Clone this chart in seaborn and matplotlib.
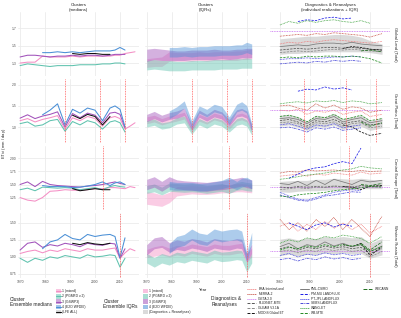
import numpy as np
import pandas as pd
import matplotlib
matplotlib.use("Agg")
import matplotlib.pyplot as plt
from matplotlib.patches import Rectangle
import seaborn as sns

nan = np.nan

# ─────────────────────────────────────────
# DATA
# ─────────────────────────────────────────
YEARS = [1970, 1973, 1976, 1979, 1982, 1985, 1988, 1991, 1994, 1997,
         2000, 2003, 2006, 2008, 2010, 2012, 2014, 2016]
DIAG_YEARS = [1980, 1983, 1986, 1989, 1992, 1995, 1998, 2001, 2004, 2007, 2010, 2014]

REGIONS = ["Global Land (Total)", "Great Plains (Total)",
           "Central Europe (Total)", "Western Russia (Total)"]
CLUSTERS = ["1 (mixed)", "2 (PGMFD v.2)", "3 (GSWP3)", "4 (E2O WFDEI)", "(LFE ALL)"]
PRODUCTS = ["ERA-Interim/Land", "MERRA-2", "GETA 2.0", "FLUXNET-MTE", "GLEAM V3.1A",
            "MODIS Global ET", "PML-CSIRO", "PM-MU LANDFLUX", "PT-JPL LANDFLUX",
            "SEBS LANDFLUX", "WANG-ET", "WB-MTE", "WECANN"]

# event years (red dotted verticals)
gl_events = []
gp_events = [1988, 2002, 2012]
ce_events = [2003]
wr_events = [2010]

# --- Global Land: cluster medians
gl_c1 = [1.30, 1.31, 1.31, 1.38, 1.37, 1.37, 1.37, 1.38, 1.37, 1.38, 1.38, 1.38, 1.38, 1.39, 1.39, 1.41, 1.42, 1.43]
gl_c2 = [1.27, 1.29, 1.28, 1.27, 1.26, 1.27, 1.27, 1.27, 1.28, 1.28, 1.28, 1.29, 1.29, 1.30, 1.30, 1.29, nan, nan]
gl_c3 = [1.37, 1.39, 1.39, 1.38, 1.37, 1.38, 1.38, 1.39, 1.38, 1.39, 1.39, 1.38, 1.39, 1.40, 1.40, 1.40, nan, nan]
gl_c4 = [nan, nan, nan, 1.42, 1.42, 1.43, 1.42, 1.43, 1.42, 1.43, 1.44, 1.44, 1.44, 1.45, 1.48, 1.45, nan, nan]
gl_lfe = [nan, nan, nan, nan, nan, nan, nan, 1.41, 1.40, 1.41, 1.41, 1.40, 1.40, nan, nan, nan, nan, nan]
# --- Global Land: cluster IQRs
gl_c1_lo = [1.25, 1.26, 1.26, 1.32, 1.32, 1.32, 1.32, 1.33, 1.32, 1.33, 1.33, 1.33, 1.33, 1.34, 1.34, 1.35, nan, nan]
gl_c1_hi = [1.35, 1.36, 1.37, 1.43, 1.42, 1.42, 1.42, 1.43, 1.42, 1.43, 1.43, 1.43, 1.44, 1.44, 1.45, 1.46, nan, nan]
gl_c2_lo = [1.22, 1.23, 1.22, 1.21, 1.21, 1.21, 1.22, 1.22, 1.22, 1.22, 1.23, 1.23, 1.23, 1.24, 1.24, 1.24, nan, nan]
gl_c2_hi = [1.33, 1.34, 1.33, 1.33, 1.32, 1.32, 1.33, 1.33, 1.33, 1.34, 1.34, 1.34, 1.35, 1.35, 1.36, 1.35, nan, nan]
gl_c3_lo = [1.32, 1.34, 1.33, 1.33, 1.33, 1.33, 1.34, 1.34, 1.34, 1.34, 1.35, 1.34, 1.35, 1.36, 1.36, 1.36, nan, nan]
gl_c3_hi = [1.46, 1.47, 1.46, 1.45, 1.44, 1.44, 1.45, 1.45, 1.45, 1.46, 1.45, 1.45, 1.46, 1.46, 1.47, 1.47, nan, nan]
gl_c4_lo = [nan, nan, nan, 1.37, 1.37, 1.38, 1.37, 1.38, 1.38, 1.38, 1.39, 1.39, 1.39, 1.40, 1.42, 1.40, nan, nan]
gl_c4_hi = [nan, nan, nan, 1.48, 1.48, 1.49, 1.48, 1.49, 1.49, 1.50, 1.50, 1.50, 1.51, 1.51, 1.54, 1.52, nan, nan]

# --- Great Plains
gp_c1 = [1.15, 1.20, 1.12, 1.18, 1.22, 1.27, 0.95, 1.22, 1.15, 1.25, 1.20, 1.02, 1.22, 1.25, 1.20, 0.95, 1.02, 1.10]
gp_c2 = [1.08, 1.12, 1.02, 1.05, 1.15, 1.18, 0.90, 1.13, 1.05, 1.15, 1.10, 0.95, 1.12, 1.15, 1.10, 0.88, nan, nan]
gp_c3 = [1.21, 1.29, 1.20, 1.26, 1.30, 1.36, 1.00, 1.32, 1.22, 1.33, 1.28, 1.10, 1.33, 1.35, 1.30, 0.98, nan, nan]
gp_c4 = [nan, nan, nan, 1.29, 1.40, 1.55, 1.05, 1.42, 1.33, 1.45, 1.40, 1.15, 1.45, 1.50, 1.42, 1.00, nan, nan]
gp_lfe = [nan, nan, nan, nan, nan, nan, nan, 1.28, 1.20, 1.30, 1.25, 1.05, 1.25, nan, nan, nan, nan, nan]
gp_c1_lo = [1.08, 1.12, 1.05, 1.10, 1.14, 1.19, 0.88, 1.14, 1.07, 1.17, 1.12, 0.95, 1.14, 1.17, 1.12, 0.88, nan, nan]
gp_c1_hi = [1.24, 1.28, 1.20, 1.26, 1.30, 1.35, 1.03, 1.30, 1.23, 1.33, 1.28, 1.10, 1.30, 1.33, 1.28, 1.03, nan, nan]
gp_c2_lo = [1.00, 1.04, 0.95, 0.98, 1.07, 1.10, 0.83, 1.05, 0.97, 1.07, 1.02, 0.88, 1.04, 1.07, 1.02, 0.81, nan, nan]
gp_c2_hi = [1.15, 1.19, 1.10, 1.13, 1.22, 1.26, 0.97, 1.20, 1.12, 1.22, 1.17, 1.02, 1.20, 1.23, 1.17, 0.96, nan, nan]
gp_c3_lo = [1.13, 1.20, 1.12, 1.18, 1.21, 1.27, 0.93, 1.23, 1.14, 1.24, 1.19, 1.02, 1.24, 1.26, 1.21, 0.91, nan, nan]
gp_c3_hi = [1.30, 1.37, 1.28, 1.34, 1.38, 1.45, 1.08, 1.40, 1.30, 1.42, 1.36, 1.18, 1.41, 1.44, 1.38, 1.06, nan, nan]
gp_c4_lo = [nan, nan, nan, 1.20, 1.30, 1.45, 0.97, 1.33, 1.24, 1.36, 1.31, 1.06, 1.36, 1.40, 1.33, 0.92, nan, nan]
gp_c4_hi = [nan, nan, nan, 1.38, 1.48, 1.62, 1.14, 1.50, 1.42, 1.54, 1.49, 1.24, 1.54, 1.60, 1.51, 1.08, nan, nan]

# --- Central Europe
ce_c1 = [1.25, 1.20, 1.18, 1.25, 1.37, 1.38, 1.40, 1.39, 1.39, 1.40, 1.42, 1.42, 1.44, 1.44, 1.43, 1.42, 1.46, 1.44]
ce_c2 = [1.40, 1.43, 1.38, 1.45, 1.44, 1.43, 1.44, 1.43, 1.40, 1.42, 1.44, 1.40, 1.46, 1.48, 1.46, 1.45, nan, nan]
ce_c3 = [1.50, 1.55, 1.46, 1.56, 1.50, 1.48, 1.47, 1.46, 1.45, 1.47, 1.48, 1.50, 1.53, 1.55, 1.52, 1.50, nan, nan]
ce_c4 = [nan, nan, nan, 1.48, 1.46, 1.46, 1.46, 1.44, 1.45, 1.47, 1.50, 1.55, 1.48, 1.53, 1.55, 1.50, nan, nan]
ce_lfe = [nan, nan, nan, nan, nan, nan, nan, 1.42, 1.38, 1.40, 1.42, 1.40, 1.40, nan, nan, nan, nan, nan]
ce_c1_lo = [1.12, 1.10, 1.08, 1.15, 1.28, 1.30, 1.32, 1.31, 1.31, 1.32, 1.34, 1.34, 1.36, 1.36, 1.35, 1.34, nan, nan]
ce_c1_hi = [1.36, 1.34, 1.30, 1.35, 1.46, 1.47, 1.48, 1.47, 1.47, 1.48, 1.50, 1.50, 1.52, 1.52, 1.51, 1.50, nan, nan]
ce_c2_lo = [1.33, 1.36, 1.30, 1.37, 1.36, 1.35, 1.36, 1.35, 1.33, 1.35, 1.37, 1.33, 1.39, 1.40, 1.38, 1.37, nan, nan]
ce_c2_hi = [1.48, 1.51, 1.45, 1.53, 1.52, 1.51, 1.52, 1.51, 1.48, 1.50, 1.52, 1.48, 1.54, 1.56, 1.54, 1.53, nan, nan]
ce_c3_lo = [1.40, 1.45, 1.37, 1.46, 1.42, 1.40, 1.39, 1.38, 1.37, 1.39, 1.40, 1.42, 1.45, 1.47, 1.44, 1.42, nan, nan]
ce_c3_hi = [1.60, 1.65, 1.56, 1.65, 1.59, 1.57, 1.56, 1.55, 1.54, 1.56, 1.57, 1.60, 1.62, 1.64, 1.61, 1.59, nan, nan]
ce_c4_lo = [nan, nan, nan, 1.40, 1.39, 1.39, 1.39, 1.37, 1.38, 1.40, 1.42, 1.46, 1.40, 1.45, 1.47, 1.42, nan, nan]
ce_c4_hi = [nan, nan, nan, 1.56, 1.54, 1.54, 1.54, 1.52, 1.53, 1.55, 1.58, 1.64, 1.56, 1.62, 1.64, 1.58, nan, nan]

# --- Western Russia
wr_c1 = [1.05, 1.08, 1.10, 1.06, 1.10, 1.08, 1.12, 1.10, 1.08, 1.12, 1.10, 1.10, 1.12, 1.13, 0.98, 1.06, 1.12, 1.09]
wr_c2 = [0.98, 0.92, 0.98, 0.95, 1.00, 0.98, 1.02, 1.00, 0.98, 1.03, 1.00, 1.01, 1.03, 1.02, 0.85, 0.98, nan, nan]
wr_c3 = [1.10, 1.20, 1.22, 1.14, 1.18, 1.16, 1.20, 1.18, 1.15, 1.20, 1.18, 1.17, 1.20, 1.19, 0.98, 1.12, nan, nan]
wr_c4 = [nan, nan, nan, 1.12, 1.22, 1.25, 1.33, 1.27, 1.25, 1.33, 1.30, 1.32, 1.33, 1.30, 0.99, 1.28, nan, nan]
wr_lfe = [nan, nan, nan, nan, nan, nan, nan, 1.20, 1.18, 1.21, 1.19, 1.18, 1.20, nan, nan, nan, nan, nan]
wr_c1_lo = [0.99, 1.01, 1.03, 1.00, 1.03, 1.01, 1.05, 1.03, 1.01, 1.05, 1.03, 1.03, 1.05, 1.06, 0.92, 1.00, nan, nan]
wr_c1_hi = [1.11, 1.15, 1.17, 1.13, 1.17, 1.15, 1.19, 1.17, 1.15, 1.19, 1.17, 1.17, 1.19, 1.20, 1.05, 1.13, nan, nan]
wr_c2_lo = [0.91, 0.85, 0.91, 0.88, 0.93, 0.91, 0.95, 0.93, 0.91, 0.96, 0.93, 0.94, 0.96, 0.95, 0.78, 0.91, nan, nan]
wr_c2_hi = [1.05, 0.99, 1.05, 1.02, 1.07, 1.05, 1.09, 1.07, 1.05, 1.10, 1.07, 1.08, 1.10, 1.09, 0.92, 1.05, nan, nan]
wr_c3_lo = [1.03, 1.12, 1.14, 1.07, 1.11, 1.09, 1.13, 1.11, 1.08, 1.13, 1.11, 1.10, 1.13, 1.12, 0.92, 1.05, nan, nan]
wr_c3_hi = [1.18, 1.28, 1.30, 1.21, 1.25, 1.23, 1.27, 1.25, 1.22, 1.27, 1.25, 1.24, 1.27, 1.26, 1.05, 1.19, nan, nan]
wr_c4_lo = [nan, nan, nan, 1.05, 1.14, 1.17, 1.25, 1.19, 1.17, 1.25, 1.22, 1.24, 1.25, 1.22, 0.92, 1.20, nan, nan]
wr_c4_hi = [nan, nan, nan, 1.19, 1.30, 1.33, 1.41, 1.35, 1.33, 1.41, 1.38, 1.40, 1.41, 1.38, 1.06, 1.36, nan, nan]

# --- Diagnostics & reanalyses (DIAG_YEARS), GETA 2.0 is a single climatological value
gl_era = [1.52, 1.54, 1.53, 1.55, 1.54, 1.56, 1.57, 1.56, 1.55, 1.54, 1.53, 1.55]
gl_merra = [1.61, 1.62, 1.63, 1.62, 1.64, 1.63, 1.65, 1.64, 1.63, 1.62, 1.60, 1.64]
gl_geta = 1.67
gl_fluxnet = [1.45, 1.46, 1.47, 1.46, 1.47, 1.48, 1.48, 1.47, 1.48, 1.47, 1.46, 1.45]
gl_gleam = [1.42, 1.43, 1.44, 1.43, 1.44, 1.45, 1.46, 1.45, 1.46, 1.45, 1.44, 1.43]
gl_modis = [nan, nan, nan, nan, nan, nan, nan, 1.47, 1.49, 1.48, 1.46, 1.45]
gl_pml = [1.49, 1.50, 1.51, 1.50, 1.52, 1.53, 1.53, 1.52, 1.54, 1.52, 1.51, 1.50]
gl_pmmu = [nan, nan, 1.78, 1.80, 1.79, 1.82, 1.83, 1.81, 1.82, nan, nan, nan]
gl_ptjpl = [1.34, 1.35, 1.35, 1.36, 1.35, 1.36, 1.37, 1.37, 1.38, 1.37, nan, nan]
gl_sebs = [1.29, 1.30, 1.31, 1.30, 1.32, 1.31, 1.33, 1.32, 1.33, 1.32, nan, nan]
gl_wang = [1.74, 1.78, 1.76, 1.79, 1.77, 1.79, 1.80, 1.78, 1.77, 1.79, 1.76, nan]
gl_wbmte = [1.36, 1.37, 1.36, 1.38, 1.37, 1.38, 1.38, 1.37, 1.38, 1.37, 1.35, 1.30]
gl_wecann = [nan, nan, nan, nan, nan, nan, nan, nan, nan, 1.44, 1.45, 1.43]
gl_diag_lo = [1.40, 1.41, 1.41, 1.42, 1.42, 1.43, 1.43, 1.43, 1.43, 1.43, 1.42, 1.40]
gl_diag_hi = [1.58, 1.59, 1.60, 1.61, 1.61, 1.62, 1.63, 1.63, 1.62, 1.60, 1.56, 1.52]

gp_era = [1.40, 1.38, 1.42, 1.30, 1.38, 1.35, 1.40, 1.30, 1.35, 1.38, 1.25, 1.30]
gp_merra = [1.50, 1.52, 1.45, 1.40, 1.55, 1.45, 1.52, 1.42, 1.48, 1.45, 1.35, 1.40]
gp_geta = 1.40
gp_fluxnet = [1.15, 1.18, 1.12, 1.02, 1.15, 1.12, 1.18, 1.08, 1.12, 1.15, 1.05, 1.08]
gp_gleam = [1.10, 1.12, 1.08, 0.98, 1.10, 1.08, 1.12, 1.02, 1.08, 1.10, 0.98, 1.02]
gp_modis = [nan, nan, nan, nan, nan, nan, nan, 1.05, 1.00, 0.88, 0.80, 0.85]
gp_pml = [1.20, 1.22, 1.18, 1.08, 1.20, 1.18, 1.25, 1.12, 1.18, 1.22, 1.10, 1.15]
gp_pmmu = [nan, nan, 1.85, 1.90, 1.88, 1.95, 1.90, 1.93, 1.88, nan, nan, nan]
gp_ptjpl = [1.05, 1.08, 1.02, 0.95, 1.05, 1.02, 1.08, 0.98, 1.02, 1.05, nan, nan]
gp_sebs = [0.98, 1.00, 0.95, 0.88, 0.98, 0.95, 1.00, 0.92, 0.95, 0.98, nan, nan]
gp_wang = [1.55, 1.58, 1.60, 1.57, 1.62, 1.60, 1.63, 1.58, 1.62, 1.60, 1.55, 1.58]
gp_wbmte = [1.25, 1.28, 1.22, 1.12, 1.25, 1.22, 1.30, 1.18, 1.22, 1.28, 1.15, 1.20]
gp_wecann = [nan, nan, nan, nan, nan, nan, nan, nan, nan, 1.12, 1.02, 1.10]
gp_diag_lo = [1.02, 1.05, 1.00, 0.92, 1.02, 1.00, 1.05, 0.95, 1.00, 1.02, 0.92, 0.98]
gp_diag_hi = [1.28, 1.30, 1.25, 1.15, 1.28, 1.25, 1.32, 1.20, 1.25, 1.28, 1.15, 1.22]

ce_era = [1.66, 1.68, 1.70, 1.66, 1.70, 1.68, 1.72, 1.70, 1.68, 1.74, 1.70, 1.72]
ce_merra = [1.72, 1.75, 1.74, 1.78, 1.76, 1.77, 1.78, 1.76, 1.75, 1.77, 1.75, 1.76]
ce_geta = 1.45
ce_fluxnet = [1.45, 1.44, 1.46, 1.45, 1.46, 1.45, 1.47, 1.46, 1.45, 1.48, 1.46, 1.47]
ce_gleam = [1.40, 1.42, 1.44, 1.42, 1.45, 1.44, 1.46, 1.45, 1.42, 1.48, 1.45, 1.46]
ce_modis = [nan, nan, nan, nan, nan, nan, nan, 1.46, 1.45, 1.40, 1.47, 1.48]
ce_pml = [1.52, 1.50, 1.56, 1.48, 1.58, 1.50, 1.60, 1.55, 1.50, 1.58, 1.55, 1.58]
ce_pmmu = [nan, 1.62, 1.70, 1.78, 1.82, 1.84, 1.90, 1.94, 1.90, 2.20, nan, nan]
ce_ptjpl = [1.35, 1.28, 1.22, 1.20, 1.25, 1.30, 1.35, 1.38, 1.40, 1.38, nan, nan]
ce_sebs = [1.30, 1.25, 1.20, 1.18, 1.22, 1.28, 1.30, 1.33, 1.36, 1.35, nan, nan]
ce_wang = [1.60, 1.62, 1.65, 1.68, 1.70, 1.72, 1.75, 1.78, 1.80, 1.85, 1.82, 1.80]
ce_wbmte = [1.28, 1.26, 1.30, 1.32, 1.33, 1.35, 1.38, 1.40, 1.42, 1.44, 1.46, 1.45]
ce_wecann = [nan, nan, nan, nan, nan, nan, nan, nan, nan, 1.50, 1.48, 1.52]
ce_diag_lo = [1.36, 1.35, 1.37, 1.38, 1.38, 1.39, 1.40, 1.41, 1.40, 1.42, 1.42, 1.42]
ce_diag_hi = [1.56, 1.57, 1.58, 1.58, 1.60, 1.60, 1.62, 1.61, 1.60, 1.62, 1.60, 1.58]

wr_era = [1.45, 1.50, 1.38, 1.48, 1.40, 1.52, 1.42, 1.50, 1.40, 1.48, 1.35, 1.45]
wr_merra = [1.55, 1.40, 1.50, 1.38, 1.55, 1.45, 1.58, 1.40, 1.55, 1.42, 1.30, 1.60]
wr_geta = 1.08
wr_fluxnet = [1.12, 1.15, 1.10, 1.14, 1.12, 1.16, 1.13, 1.15, 1.12, 1.14, 1.05, 1.12]
wr_gleam = [1.08, 1.10, 1.06, 1.10, 1.08, 1.12, 1.09, 1.12, 1.08, 1.10, 1.00, 1.08]
wr_modis = [nan, nan, nan, nan, nan, nan, nan, 1.18, 1.15, 1.20, 1.02, 1.15]
wr_pml = [1.15, 1.20, 1.12, 1.18, 1.15, 1.22, 1.16, 1.20, 1.15, 1.18, 1.08, 1.16]
wr_pmmu = [nan, 1.50, 1.45, 1.40, 1.47, 1.50, 1.44, 1.48, 1.45, nan, nan, nan]
wr_ptjpl = [1.02, 1.05, 1.00, 1.04, 1.02, 1.06, 1.03, 1.05, 1.02, 1.04, nan, nan]
wr_sebs = [0.96, 0.98, 0.94, 0.98, 0.96, 1.00, 0.97, 0.99, 0.96, 0.98, nan, nan]
wr_wang = [1.20, 1.25, 1.22, 1.28, 1.25, 1.30, 1.28, 1.32, 1.30, 1.27, 1.20, 1.30]
wr_wbmte = [1.10, 1.14, 1.12, 1.16, 1.14, 1.18, 1.15, 1.18, 1.16, 1.18, 1.08, 1.15]
wr_wecann = [nan, nan, nan, nan, nan, nan, nan, nan, nan, 1.20, 1.10, 1.22]
wr_diag_lo = [1.02, 1.04, 1.01, 1.04, 1.03, 1.06, 1.04, 1.06, 1.04, 1.05, 0.98, 1.03]
wr_diag_hi = [1.26, 1.28, 1.25, 1.28, 1.27, 1.30, 1.28, 1.30, 1.28, 1.30, 1.20, 1.27]

# ─────────────────────────────────────────
# TABLES
# ─────────────────────────────────────────
med_lists = {
    REGIONS[0]: [gl_c1, gl_c2, gl_c3, gl_c4, gl_lfe],
    REGIONS[1]: [gp_c1, gp_c2, gp_c3, gp_c4, gp_lfe],
    REGIONS[2]: [ce_c1, ce_c2, ce_c3, ce_c4, ce_lfe],
    REGIONS[3]: [wr_c1, wr_c2, wr_c3, wr_c4, wr_lfe],
}
band_lists = {
    REGIONS[0]: [(gl_c1_lo, gl_c1_hi), (gl_c2_lo, gl_c2_hi), (gl_c3_lo, gl_c3_hi), (gl_c4_lo, gl_c4_hi)],
    REGIONS[1]: [(gp_c1_lo, gp_c1_hi), (gp_c2_lo, gp_c2_hi), (gp_c3_lo, gp_c3_hi), (gp_c4_lo, gp_c4_hi)],
    REGIONS[2]: [(ce_c1_lo, ce_c1_hi), (ce_c2_lo, ce_c2_hi), (ce_c3_lo, ce_c3_hi), (ce_c4_lo, ce_c4_hi)],
    REGIONS[3]: [(wr_c1_lo, wr_c1_hi), (wr_c2_lo, wr_c2_hi), (wr_c3_lo, wr_c3_hi), (wr_c4_lo, wr_c4_hi)],
}
diag_lists = {
    REGIONS[0]: [gl_era, gl_merra, None, gl_fluxnet, gl_gleam, gl_modis, gl_pml, gl_pmmu, gl_ptjpl, gl_sebs, gl_wang, gl_wbmte, gl_wecann],
    REGIONS[1]: [gp_era, gp_merra, None, gp_fluxnet, gp_gleam, gp_modis, gp_pml, gp_pmmu, gp_ptjpl, gp_sebs, gp_wang, gp_wbmte, gp_wecann],
    REGIONS[2]: [ce_era, ce_merra, None, ce_fluxnet, ce_gleam, ce_modis, ce_pml, ce_pmmu, ce_ptjpl, ce_sebs, ce_wang, ce_wbmte, ce_wecann],
    REGIONS[3]: [wr_era, wr_merra, None, wr_fluxnet, wr_gleam, wr_modis, wr_pml, wr_pmmu, wr_ptjpl, wr_sebs, wr_wang, wr_wbmte, wr_wecann],
}
diag_band = {REGIONS[0]: (gl_diag_lo, gl_diag_hi), REGIONS[1]: (gp_diag_lo, gp_diag_hi),
             REGIONS[2]: (ce_diag_lo, ce_diag_hi), REGIONS[3]: (wr_diag_lo, wr_diag_hi)}
geta = {REGIONS[0]: gl_geta, REGIONS[1]: gp_geta, REGIONS[2]: ce_geta, REGIONS[3]: wr_geta}
events = {REGIONS[0]: gl_events, REGIONS[1]: gp_events, REGIONS[2]: ce_events, REGIONS[3]: wr_events}

rows = []
for reg, lists in med_lists.items():
    for name, vals in zip(CLUSTERS, lists):
        rows += [(reg, name, y, v) for y, v in zip(YEARS, vals)]
med_df = pd.DataFrame(rows, columns=["region", "series", "year", "et"]).dropna()

rows = []
for reg, lists in diag_lists.items():
    for name, vals in zip(PRODUCTS, lists):
        if vals is None:
            continue
        rows += [(reg, name, y, v) for y, v in zip(DIAG_YEARS, vals)]
diag_df = pd.DataFrame(rows, columns=["region", "product", "year", "et"]).dropna()

# ─────────────────────────────────────────
# STYLE
# ─────────────────────────────────────────
MED_COLORS = {"1 (mixed)": "#F48FC5", "2 (PGMFD v.2)": "#5FC2AE", "3 (GSWP3)": "#A152BA",
              "4 (E2O WFDEI)": "#4A8FD6", "(LFE ALL)": "#111111"}
BAND_COLORS = ["#F48FC5", "#5FC2AE", "#A152BA", "#4A8FD6"]
DIAG_COLORS = {"ERA-Interim/Land": "#F07070", "MERRA-2": "#C0392B", "GETA 2.0": "#C86CF0",
               "FLUXNET-MTE": "#555555", "GLEAM V3.1A": "#8A8A8A", "MODIS Global ET": "#111111",
               "PML-CSIRO": "#7A7A7A", "PM-MU LANDFLUX": "#1A1AE6", "PT-JPL LANDFLUX": "#2E2EE0",
               "SEBS LANDFLUX": "#4848D8", "WANG-ET": "#2E9A2E", "WB-MTE": "#228B22", "WECANN": "#1E6E1E"}
DIAG_DASHES = {"ERA-Interim/Land": (1, 1), "MERRA-2": (1, 1), "GETA 2.0": (1, 1),
               "FLUXNET-MTE": (3, 1.5), "GLEAM V3.1A": (3, 1.5), "MODIS Global ET": (3, 1.5),
               "PML-CSIRO": "", "PM-MU LANDFLUX": (3, 1.5), "PT-JPL LANDFLUX": (1, 1),
               "SEBS LANDFLUX": (3, 1, 1, 1), "WANG-ET": (1, 1), "WB-MTE": (3, 1.5), "WECANN": (4, 1.5)}
LINE_PRODUCTS = [p for p in PRODUCTS if p != "GETA 2.0"]

sns.set_theme(style="whitegrid")
plt.rcParams["font.family"] = ["Liberation Sans", "DejaVu Sans"]
plt.rcParams["mathtext.default"] = "regular"

W, H = 402, 318
COLS = [(18.3, 139.0), (145.0, 265.7), (269.7, 390.4)]
ROWS = [(12, 76), (79, 143), (146, 210), (213, 278)]
XLIMS = [(1969.3, 2017.6), (1969.3, 2017.6), (1976.6, 2016.8)]
XTICKS = [[1970, 1980, 1990, 2000, 2010], [1970, 1980, 1990, 2000, 2010], [1980, 1990, 2000, 2010]]
YLIMS = [(1.15, 1.89), (0.62, 2.14), (1.01, 2.24), (0.69, 1.645)]
YTICKS = [[1.3, 1.5, 1.7], [1.0, 1.5, 2.0], [1.25, 1.5, 1.75, 2.0], [0.75, 1.0, 1.25, 1.5]]
YFMT = ["%.1f", "%.1f", "%.2f", "%.2f"]
TXT = "#222222"
TICK = "#4D4D4D"


def px_box(x0, x1, y0, y1):
    return [x0 / W, 1 - y1 / H, (x1 - x0) / W, (y1 - y0) / H]


fig = plt.figure(figsize=(W / 100, H / 100), dpi=100)

for r, reg in enumerate(REGIONS):
    for c in range(3):
        ax = fig.add_axes(px_box(*COLS[c], *ROWS[r]))
        ax.set_facecolor("white")

        if c == 0:
            sub = med_df[med_df.region == reg]
            sns.lineplot(data=sub, x="year", y="et", hue="series", hue_order=CLUSTERS,
                         palette=MED_COLORS, estimator=None, legend=False, linewidth=0.75, ax=ax)
        elif c == 1:
            for (lo, hi), col in zip(band_lists[reg], BAND_COLORS):
                ax.fill_between(YEARS, lo, hi, color=col, alpha=0.45, lw=0)
        else:
            lo, hi = diag_band[reg]
            ax.fill_between(DIAG_YEARS, lo, hi, color="#BDBDBD", alpha=0.55, lw=0)
            ax.axhline(geta[reg], color=DIAG_COLORS["GETA 2.0"], ls=(0, (1, 1)), lw=0.6)
            sub = diag_df[diag_df.region == reg]
            sns.lineplot(data=sub, x="year", y="et", hue="product", style="product",
                         hue_order=LINE_PRODUCTS, style_order=LINE_PRODUCTS,
                         palette=DIAG_COLORS, dashes=DIAG_DASHES, estimator=None,
                         legend=False, linewidth=0.55, ax=ax)

        for ev in events[reg]:
            ax.axvline(ev, color="#FF5C5C", ls=(0, (1, 1)), lw=0.6)

        ax.set_xlim(XLIMS[c])
        ax.set_ylim(YLIMS[r])
        ax.set_xticks(XTICKS[c])
        ax.set_yticks(YTICKS[r])
        ax.grid(True, color="#EBEBEB", lw=0.6)
        ax.set_axisbelow(True)
        for s in ax.spines.values():
            s.set_visible(False)
        ax.tick_params(length=0, pad=1.2, labelsize=2.4, labelcolor=TICK)
        if c == 0:
            ax.set_yticklabels([YFMT[r] % v for v in YTICKS[r]])
        else:
            ax.set_yticklabels([])
        if r < 3:
            ax.set_xticklabels([])
        ax.set_xlabel("")
        ax.set_ylabel("")

# ─────────────────────────────────────────
# TEXT + LEGENDS (overlay in pixel coordinates)
# ─────────────────────────────────────────
lay = fig.add_axes([0, 0, 1, 1], facecolor="none")
lay.set_xlim(0, W)
lay.set_ylim(H, 0)
lay.axis("off")

titles = ["Clusters\n(medians)", "Clusters\n(IQRs)", "Diagnostics & Reanalyses\n(individual realizations + IQR)"]
for (x0, x1), t in zip(COLS, titles):
    lay.text((x0 + x1) / 2, 7.5, t, ha="center", va="center", fontsize=3.2, color=TXT, linespacing=1.1)

for (y0, y1), reg in zip(ROWS, REGIONS):
    lay.text(395, (y0 + y1) / 2, reg, rotation=270, ha="center", va="center", fontsize=3.0, color=TXT)

lay.text(4, 143, "ET$_{tot}$ (mm / day)", rotation=90, ha="center", va="center", fontsize=3.0, color=TXT)
lay.text(203, 290, "Year", ha="center", va="center", fontsize=3.0, color=TXT)

# legend 1: medians
lay.text(10, 302, "Cluster\nEnsemble medians", ha="left", va="center", fontsize=3.5, color=TXT, linespacing=1.1)
for i, name in enumerate(CLUSTERS):
    y = 291 + i * 5.3
    col = MED_COLORS[name]
    lay.add_patch(Rectangle((56, y - 2.2), 4.8, 4.4, facecolor="#BDBDBD" if i == 4 else col,
                            alpha=0.5, lw=0))
    lay.plot([56, 60.8], [y, y], color=col, lw=0.8)
    lay.text(62.3, y, name, ha="left", va="center", fontsize=2.4, color=TXT)

# legend 2: IQRs
lay.text(103.5, 304, "Cluster\nEnsemble IQRs", ha="left", va="center", fontsize=3.5, color=TXT, linespacing=1.1)
iqr_labels = CLUSTERS[:4] + ["(Diagnostics + Reanalyses)"]
iqr_cols = BAND_COLORS + ["#BDBDBD"]
for i, (name, col) in enumerate(zip(iqr_labels, iqr_cols)):
    y = 291 + i * 5.3
    lay.add_patch(Rectangle((143, y - 2.2), 4.8, 4.4, facecolor=col, alpha=0.55, lw=0))
    lay.text(149, y, name, ha="left", va="center", fontsize=2.4, color=TXT)

# legend 3: diagnostics
lay.text(211.5, 301.5, "Diagnostics &\nReanalyses", ha="left", va="center", fontsize=3.5, color=TXT, linespacing=1.1)
key_x = [(247.5, 256.5), (300, 309), (363.5, 372.5)]
for i, name in enumerate(PRODUCTS):
    col_i, row_i = divmod(i, 6)
    x0, x1 = key_x[col_i]
    y = 289.3 + row_i * 4.65
    d = DIAG_DASHES[name]
    ls = "-" if d == "" else (0, d)
    lay.plot([x0, x1], [y, y], color=DIAG_COLORS[name], lw=0.7, ls=ls)
    lay.text(x1 + 2, y, name, ha="left", va="center", fontsize=2.3, color=TXT)

fig.savefig("out.png", dpi=100)
